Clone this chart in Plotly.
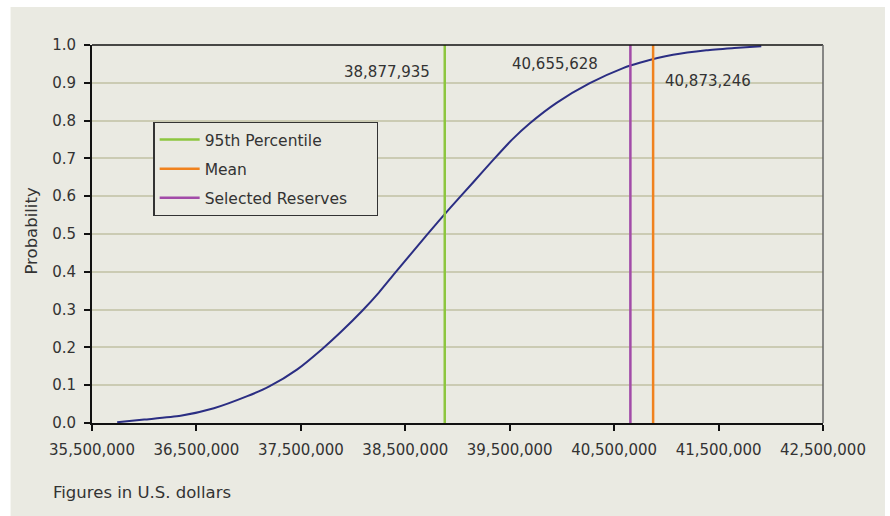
import plotly.graph_objects as go

# Cumulative probability curve of reserve outcomes (U.S. dollars)
reserve_amounts = [35741000, 36000000, 36348000, 36667000, 36987000, 37193000,
                   37466000, 37705000, 37880000, 38088000, 38247000, 38402000,
                   38705000, 38930000, 39151000, 39342000, 39520000, 39693000,
                   39949000, 40267000, 40586000, 40745000, 41064000, 41383000,
                   41650000, 41909000]
cumulative_prob = [0.002, 0.009, 0.019, 0.039, 0.071, 0.096,
                   0.142, 0.196, 0.240, 0.297, 0.345, 0.397,
                   0.497, 0.569, 0.637, 0.696, 0.749, 0.793,
                   0.847, 0.899, 0.939, 0.953, 0.974, 0.986,
                   0.992, 0.997]

# Reference markers: name, value, colour
marker_names = ["95th Percentile", "Mean", "Selected Reserves"]
marker_values = [38877935, 40873246, 40655628]
marker_colors = ["#8DC63F", "#F0821E", "#A24BA8"]

x_ticks = [35500000, 36500000, 37500000, 38500000, 39500000,
           40500000, 41500000, 42500000]
y_ticks = [0.0, 0.1, 0.2, 0.3, 0.4, 0.5, 0.6, 0.7, 0.8, 0.9, 1.0]

FONT = "DejaVu Sans"
TXT = "#333333"
BG = "#EAEAE2"

fig = go.Figure()

fig.add_trace(go.Scatter(
    x=reserve_amounts, y=cumulative_prob, mode="lines",
    line=dict(color="#2B2E83", width=2, shape="spline", smoothing=0.6),
    showlegend=False, hoverinfo="skip"))

for name, val, col in zip(marker_names, marker_values, marker_colors):
    fig.add_trace(go.Scatter(
        x=[val, val], y=[0, 1], mode="lines",
        name=name + "\u00a0" * 5,
        legendgroup=name,
        line=dict(color=col, width=2.5)))

# Value labels next to the vertical markers
label_specs = [
    (38877935, 0.929, "right", -13),
    (40655628, 0.951, "right", -30),
    (40873246, 0.906, "left", 10),
]
for val, yy, anchor, shift in label_specs:
    fig.add_annotation(x=val, y=yy, xref="x", yref="y", text=f"{val:,}",
                       showarrow=False, xanchor=anchor, yanchor="middle",
                       xshift=shift, font=dict(family=FONT, size=15, color=TXT))

L, R, T, B = 91.5, 67, 45, 93
W, H = 890, 516
pw, ph = W - L - R, H - T - B

def px_x(p):
    return (p - L) / pw

def px_y(p):
    return (H - B - p) / ph

shapes = [
    # grey panel behind the chart
    dict(type="rect", xref="paper", yref="paper", layer="below",
         x0=px_x(10), x1=px_x(885), y0=px_y(516), y1=px_y(7),
         fillcolor=BG, line=dict(width=0)),
    # top and right frame lines
    dict(type="line", xref="paper", yref="paper", x0=0, x1=1, y0=1, y1=1,
         line=dict(color="#111111", width=1.5)),
    dict(type="line", xref="paper", yref="paper", x0=1, x1=1, y0=0, y1=1,
         line=dict(color="#666666", width=1.5)),
]

fig.add_annotation(text="Figures in U.S. dollars", xref="paper", yref="paper",
                   x=px_x(50), y=px_y(492), xanchor="left", yanchor="middle",
                   showarrow=False, font=dict(family=FONT, size=16.5, color=TXT))
fig.add_annotation(text="Probability", xref="paper", yref="paper",
                   x=px_x(30), y=px_y(231), xanchor="center", yanchor="middle",
                   textangle=-90, showarrow=False,
                   font=dict(family=FONT, size=16.5, color=TXT))

fig.update_layout(
    width=W, height=H,
    margin=dict(l=L, r=R, t=T, b=B),
    paper_bgcolor="white", plot_bgcolor=BG,
    font=dict(family=FONT, size=15, color=TXT),
    shapes=shapes,
    legend=dict(x=px_x(153), y=px_y(121.7), xanchor="left", yanchor="top",
                bgcolor=BG, bordercolor="#333333", borderwidth=1.2,
                traceorder="grouped", tracegroupgap=6, itemwidth=40,
                font=dict(family=FONT, size=15.5, color=TXT)),
    xaxis=dict(range=[35500000, 42500000], tickvals=x_ticks,
               ticktext=[f"{v:,}" for v in x_ticks],
               showgrid=False, zeroline=False,
               showline=True, linecolor="#111111", linewidth=2,
               ticks="outside", ticklen=6, tickwidth=1.5, tickcolor="#111111",
               ticklabelstandoff=6),
    yaxis=dict(range=[0, 1], tickvals=y_ticks,
               ticktext=[f"{v:.1f}" for v in y_ticks],
               showgrid=True, gridcolor="#CBCBB3", gridwidth=1.5,
               zeroline=False,
               showline=True, linecolor="#111111", linewidth=2,
               ticks="outside", ticklen=6, tickwidth=1.5, tickcolor="#111111",
               ticklabelstandoff=5),
)

fig.write_html("out.html")
